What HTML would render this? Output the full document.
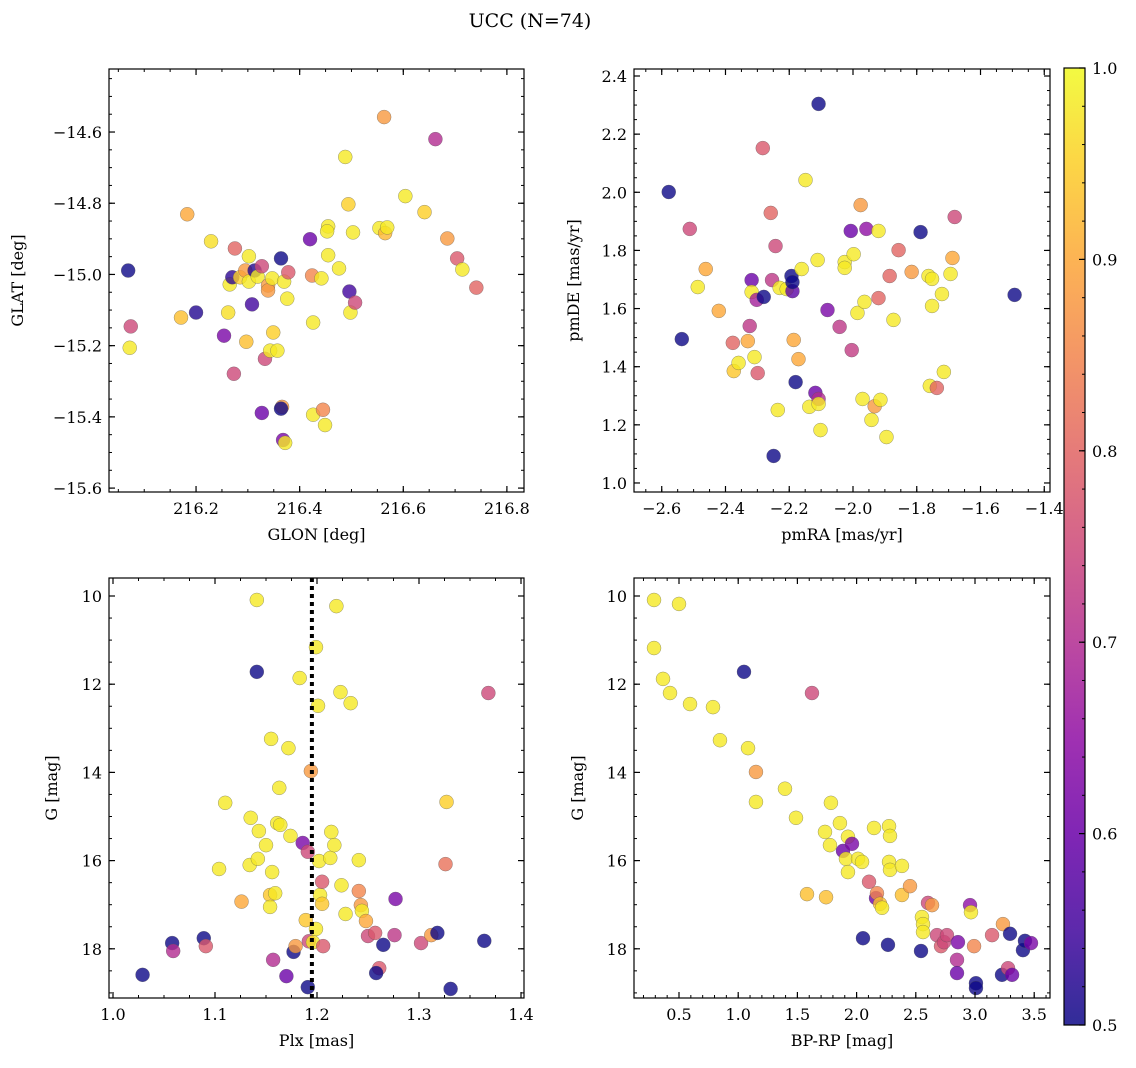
<!DOCTYPE html>
<html><head><meta charset="utf-8">
<style>
body{margin:0;background:#fff;}
svg{display:block;font-family:"DejaVu Serif","Liberation Serif",serif;}
</style></head>
<body>
<svg id="fig" width="1136" height="1068" viewBox="0 0 1136 1068" xmlns="http://www.w3.org/2000/svg">
<defs>
<linearGradient id="cbgrad" x1="0" y1="1" x2="0" y2="0">
<stop offset="0" stop-color="#0d0887"/><stop offset="0.1" stop-color="#41049d"/><stop offset="0.2" stop-color="#6a00a8"/><stop offset="0.3" stop-color="#8f0da4"/><stop offset="0.4" stop-color="#b12a90"/><stop offset="0.5" stop-color="#cc4778"/><stop offset="0.6" stop-color="#e16462"/><stop offset="0.7" stop-color="#f2844b"/><stop offset="0.8" stop-color="#fca636"/><stop offset="0.9" stop-color="#fcce25"/><stop offset="1" stop-color="#f0f921"/>
</linearGradient>
</defs>
<text x="530" y="27" font-size="19" text-anchor="middle">UCC (N=74)</text>
</svg>
<script>
// ---------- Panel 1: GLON vs GLAT ----------
const glon = [216.069,216.074,216.072,216.183,216.171,216.2,216.229,216.254,216.262,216.265,216.27,216.275,216.273,216.285,216.295,216.302,216.302,216.297,216.308,216.313,216.319,216.327,216.333,216.327,216.339,216.339,216.347,216.349,216.343,216.357,216.364,216.366,216.364,216.368,216.372,216.37,216.376,216.378,216.42,216.424,216.426,216.426,216.442,216.445,216.449,216.455,216.453,216.455,216.476,216.488,216.494,216.496,216.498,216.503,216.507,216.554,216.563,216.565,216.569,216.604,216.641,216.662,216.685,216.704,216.714,216.741];
const glat = [-14.989,-15.146,-15.206,-14.831,-15.121,-15.107,-14.907,-15.172,-15.107,-15.028,-15.008,-14.927,-15.279,-15.008,-14.989,-14.949,-15.02,-15.189,-15.084,-14.989,-15.006,-14.977,-15.237,-15.389,-15.031,-15.045,-15.011,-15.163,-15.214,-15.214,-14.955,-15.372,-15.377,-15.465,-15.473,-15.02,-15.068,-14.994,-14.901,-15.003,-15.135,-15.394,-15.011,-15.38,-15.423,-14.865,-14.879,-14.946,-14.983,-14.67,-14.803,-15.048,-15.107,-14.882,-15.079,-14.87,-14.558,-14.884,-14.868,-14.78,-14.825,-14.62,-14.899,-14.955,-14.986,-15.037];
const prob1 = [0.5,0.75,0.98,0.9,0.93,0.52,0.97,0.62,0.97,0.98,0.53,0.8,0.75,0.95,0.88,0.98,0.98,0.93,0.55,0.52,0.98,0.75,0.75,0.6,0.88,0.88,0.98,0.95,0.98,0.98,0.5,0.88,0.5,0.62,0.98,0.98,0.98,0.78,0.6,0.85,0.98,0.98,0.98,0.85,0.98,0.98,0.98,0.98,0.98,0.98,0.95,0.55,0.98,0.98,0.75,0.98,0.88,0.92,0.98,0.98,0.95,0.7,0.88,0.78,0.98,0.8];
// ---------- Panel 2: pmRA vs pmDE ----------
const pmra = [-2.578,-2.512,-2.537,-2.487,-2.462,-2.421,-2.377,-2.374,-2.359,-2.33,-2.318,-2.324,-2.318,-2.309,-2.299,-2.302,-2.28,-2.283,-2.258,-2.254,-2.249,-2.243,-2.236,-2.23,-2.208,-2.193,-2.19,-2.19,-2.186,-2.18,-2.171,-2.161,-2.149,-2.137,-2.118,-2.111,-2.108,-2.108,-2.108,-2.102,-2.08,-2.042,-2.026,-2.026,-2.007,-2.004,-1.998,-1.986,-1.976,-1.97,-1.964,-1.958,-1.942,-1.932,-1.92,-1.92,-1.914,-1.895,-1.885,-1.873,-1.857,-1.816,-1.788,-1.763,-1.759,-1.752,-1.752,-1.737,-1.721,-1.715,-1.694,-1.688,-1.681,-1.493];
const pmde = [2.001,1.874,1.495,1.674,1.736,1.592,1.482,1.385,1.413,1.488,1.698,1.54,1.657,1.433,1.378,1.63,1.64,2.152,1.929,1.698,1.093,1.815,1.251,1.671,1.667,1.712,1.66,1.691,1.492,1.347,1.426,1.736,2.042,1.262,1.31,1.767,2.304,1.289,1.272,1.182,1.595,1.537,1.76,1.74,1.867,1.457,1.787,1.585,1.956,1.289,1.623,1.874,1.217,1.264,1.636,1.867,1.286,1.158,1.712,1.561,1.801,1.726,1.863,1.712,1.334,1.702,1.609,1.327,1.65,1.382,1.719,1.774,1.915,1.647];
const prob2 = [0.5,0.75,0.5,0.98,0.9,0.9,0.8,0.94,0.98,0.9,0.6,0.72,0.98,0.98,0.78,0.68,0.5,0.78,0.8,0.72,0.5,0.75,0.98,0.98,0.98,0.5,0.58,0.5,0.9,0.5,0.9,0.98,0.98,0.98,0.6,0.98,0.5,0.7,0.98,0.98,0.62,0.72,0.98,0.98,0.6,0.73,0.98,0.98,0.88,0.98,0.98,0.65,0.98,0.88,0.8,0.98,0.98,0.98,0.8,0.98,0.8,0.88,0.5,0.98,0.98,0.98,0.98,0.8,0.98,0.98,0.98,0.9,0.75,0.5];
// ---------- Panel 3: Plx vs G ----------
const plx = [1.029,1.058,1.059,1.089,1.091,1.104,1.11,1.126,1.135,1.134,1.141,1.141,1.142,1.143,1.15,1.154,1.154,1.155,1.156,1.157,1.159,1.161,1.164,1.163,1.17,1.172,1.174,1.177,1.179,1.183,1.186,1.189,1.191,1.191,1.192,1.194,1.196,1.199,1.199,1.201,1.203,1.202,1.205,1.205,1.206,1.213,1.214,1.217,1.219,1.223,1.224,1.228,1.233,1.241,1.241,1.243,1.244,1.248,1.25,1.257,1.261,1.258,1.265,1.276,1.277,1.302,1.312,1.318,1.326,1.327,1.331,1.364,1.368];
const gmag3 = [18.59,17.87,18.05,17.76,17.94,16.19,14.69,16.93,15.03,16.1,10.09,11.72,15.96,15.33,15.65,16.78,17.05,13.24,16.26,18.25,16.74,15.15,15.19,14.35,18.62,13.45,15.44,18.07,17.94,11.86,15.6,17.35,15.8,18.87,17.83,13.97,17.85,17.55,11.16,12.49,16.78,16.01,16.48,16.98,17.94,15.94,15.35,15.65,10.23,12.18,16.56,17.21,12.43,15.99,16.69,17.01,17.14,17.37,17.71,17.64,18.44,18.55,17.91,17.69,16.87,17.87,17.69,17.64,16.08,14.67,18.91,17.82,12.2];
const prob3 = [0.5,0.5,0.7,0.5,0.78,0.98,0.98,0.9,0.98,0.98,0.98,0.5,0.98,0.98,0.98,0.94,0.98,0.98,0.98,0.7,0.98,0.98,0.98,0.98,0.6,0.98,0.98,0.5,0.88,0.98,0.62,0.94,0.75,0.5,0.75,0.88,0.98,0.98,0.98,0.98,0.98,0.98,0.78,0.94,0.78,0.98,0.98,0.98,0.98,0.98,0.98,0.98,0.98,0.98,0.85,0.88,0.98,0.9,0.75,0.78,0.78,0.5,0.5,0.72,0.62,0.75,0.88,0.5,0.82,0.95,0.5,0.5,0.75];
const plxLine = [1.195];
// ---------- Panel 4: BP-RP vs G ----------
const bprp = [0.289,0.289,0.365,0.424,0.5,0.593,0.787,0.846,1.049,1.083,1.15,1.15,1.395,1.488,1.581,1.623,1.733,1.742,1.783,1.775,1.859,1.885,1.91,1.927,1.927,1.961,2.012,2.046,2.054,2.105,2.147,2.164,2.172,2.198,2.215,2.265,2.274,2.282,2.274,2.282,2.383,2.383,2.451,2.544,2.552,2.561,2.561,2.603,2.637,2.679,2.713,2.738,2.763,2.848,2.856,2.848,2.958,2.966,2.992,3.008,3.008,3.144,3.228,3.236,3.279,3.296,3.313,3.405,3.422,3.473];
const gmag4 = [10.09,11.18,11.88,12.2,10.18,12.45,12.52,13.27,11.72,13.45,13.99,14.67,14.37,15.03,16.76,12.2,15.35,16.83,14.69,15.65,15.15,15.78,15.96,16.26,15.46,15.62,15.96,16.03,17.76,16.48,15.26,16.85,16.74,16.98,17.07,17.91,15.22,15.44,16.03,16.21,16.12,16.78,16.58,18.05,17.28,17.44,17.62,16.96,17.01,17.69,17.94,17.85,17.69,18.25,17.85,18.55,17.01,17.17,17.94,18.78,18.89,17.69,18.59,17.44,18.44,17.66,18.59,18.03,17.82,17.87];
const prob4 = [0.98,0.98,0.98,0.98,0.98,0.98,0.98,0.98,0.5,0.98,0.88,0.98,0.98,0.98,0.93,0.75,0.98,0.93,0.98,0.98,0.98,0.6,0.98,0.98,0.98,0.62,0.98,0.98,0.5,0.78,0.98,0.6,0.85,0.93,0.98,0.5,0.98,0.98,0.98,0.98,0.98,0.93,0.88,0.5,0.98,0.98,0.98,0.75,0.88,0.75,0.78,0.75,0.75,0.7,0.62,0.6,0.65,0.98,0.85,0.5,0.5,0.78,0.5,0.88,0.75,0.5,0.6,0.5,0.5,0.62];
// colorbar ticks
const cbTicks = [0.5,0.6,0.7,0.8,0.9,1.0];

const NS = "http://www.w3.org/2000/svg";
const svg = document.getElementById('fig');
const stops = ["#0d0887","#41049d","#6a00a8","#8f0da4","#b12a90","#cc4778","#e16462","#f2844b","#fca636","#fcce25","#f0f921"];
function hex(h){return [parseInt(h.substr(1,2),16),parseInt(h.substr(3,2),16),parseInt(h.substr(5,2),16)];}
function plasma(p){
  let t=Math.max(0,Math.min(1,(p-0.5)/0.5))*10;
  let i=Math.min(9,Math.floor(t)),f=t-i;
  const a=hex(stops[i]),b=hex(stops[i+1]);
  return 'rgb('+a.map((v,k)=>Math.round(v+(b[k]-v)*f)).join(',')+')';
}
function mk(tag,attrs,parent){const e=document.createElementNS(NS,tag);for(const k in attrs)e.setAttribute(k,attrs[k]);(parent||svg).appendChild(e);return e;}
function fmt(v,d){let s=v.toFixed(d);return s.replace('-','\u2212');}

function panel(cfg){
  const g=mk('g',{});
  
  
  const L=cfg.L,R=cfg.R,T=cfg.T,B=cfg.B;
  const sx=v=>L+(v-cfg.x0)/(cfg.x1-cfg.x0)*(R-L);
  const sy=v=>T+(v-cfg.y0)/(cfg.y1-cfg.y0)*(B-T);
  // points
  const pg=mk('g',{},g);
  
  
  for(let i=0;i<cfg.xs.length;i++){
    const c=mk('circle',{cx:sx(cfg.xs[i]),cy:sy(cfg.ys[i]),r:7,fill:plasma(cfg.ps[i]),'fill-opacity':0.8,stroke:'#555','stroke-width':0.5,'stroke-opacity':0.6},pg);
    
    
  }
  if(cfg.vline){
    for(const v of cfg.vline){
      const l=mk('line',{x1:sx(v),x2:sx(v),y1:T,y2:B,stroke:'#000','stroke-width':4,'stroke-dasharray':'4 4'},g);
      
      
    }
  }
  // frame
  const fr=mk('rect',{x:L,y:T,width:R-L,height:B-T,fill:'none',stroke:'#000','stroke-width':1.2},g);
  
  
  // ticks
  const eps=1e-9;
  function ticks(a0,a1,step){const lo=Math.min(a0,a1),hi=Math.max(a0,a1);const r=[];for(let v=Math.ceil(lo/step-eps)*step;v<=hi+eps;v+=step)r.push(v);return r;}
  for(const v of ticks(cfg.x0,cfg.x1,cfg.xminor)){const x=sx(v);mk('line',{x1:x,x2:x,y1:B,y2:B-3,stroke:'#000','stroke-width':1},g);mk('line',{x1:x,x2:x,y1:T,y2:T+3,stroke:'#000','stroke-width':1},g);}
  for(const v of ticks(cfg.y0,cfg.y1,cfg.yminor)){const y=sy(v);mk('line',{x1:L,x2:L+3,y1:y,y2:y,stroke:'#000','stroke-width':1},g);mk('line',{x1:R,x2:R-3,y1:y,y2:y,stroke:'#000','stroke-width':1},g);}
  for(const v of ticks(cfg.x0,cfg.x1,cfg.xmajor)){const x=sx(v);mk('line',{x1:x,x2:x,y1:B,y2:B-6,stroke:'#000','stroke-width':1.2},g);mk('line',{x1:x,x2:x,y1:T,y2:T+6,stroke:'#000','stroke-width':1.2},g);
    const t=mk('text',{x:x,y:B+22,'font-size':16,'text-anchor':'middle'},g);t.textContent=fmt(v,cfg.xd);
    
    }
  for(const v of ticks(cfg.y0,cfg.y1,cfg.ymajor)){const y=sy(v);mk('line',{x1:L,x2:L+6,y1:y,y2:y,stroke:'#000','stroke-width':1.2},g);mk('line',{x1:R,x2:R-6,y1:y,y2:y,stroke:'#000','stroke-width':1.2},g);
    const t=mk('text',{x:L-7,y:y+6,'font-size':16,'text-anchor':'end'},g);t.textContent=fmt(v,cfg.yd);
    
    }
  const xl=mk('text',{x:(L+R)/2,y:B+48,'font-size':16,'text-anchor':'middle'},g);xl.textContent=cfg.xlabel;
  
  
  const yx=cfg.ylx,yy=(T+B)/2;
  const yl=mk('text',{x:yx,y:yy,'font-size':16,'text-anchor':'middle',transform:'rotate(-90 '+yx+' '+yy+')'},g);yl.textContent=cfg.ylabel;
  
  
}

panel({name:'glon-glat-panel',L:109,R:524,T:69,B:492,x0:216.032,x1:216.833,y0:-14.423,y1:-15.611,xmajor:0.2,xminor:0.05,ymajor:0.2,yminor:0.05,xd:1,yd:1,xs:glon,ys:glat,ps:prob1,xlabel:'GLON [deg]',ylabel:'GLAT [deg]',ylx:23});
panel({name:'pm-panel',L:634,R:1050,T:69,B:492,x0:-2.687,x1:-1.382,y0:2.4+7/290.7,y1:2.4-416/290.7,xmajor:0.2,xminor:0.05,ymajor:0.2,yminor:0.05,xd:1,yd:1,xs:pmra,ys:pmde,ps:prob2,xlabel:'pmRA [mas/yr]',ylabel:'pmDE [mas/yr]',ylx:579});
panel({name:'plx-g-panel',L:109,R:524,T:578,B:998,x0:1.0-4/1020,x1:1.0+411/1020,y0:10-18/44.1,y1:10+402/44.1,xmajor:0.1,xminor:0.025,ymajor:2,yminor:0.5,xd:1,yd:0,xs:plx,ys:gmag3,ps:prob3,xlabel:'Plx [mas]',ylabel:'G [mag]',ylx:57,vline:plxLine});
panel({name:'cmd-panel',L:634,R:1050,T:578,B:998,x0:0.5-45/118.4,x1:0.5+371/118.4,y0:10-18/44.1,y1:10+402/44.1,xmajor:0.5,xminor:0.1,ymajor:2,yminor:0.5,xd:1,yd:0,xs:bprp,ys:gmag4,ps:prob4,xlabel:'BP-RP [mag]',ylabel:'G [mag]',ylx:583});

// colorbar
const cb=mk('g',{});


const cT=68,cB=1025,cL=1064,cR=1085;
mk('rect',{x:cL,y:cT,width:cR-cL,height:cB-cT,fill:'url(#cbgrad)','fill-opacity':0.85,stroke:'#000','stroke-width':1.2},cb);
const cy=v=>cB-(v-0.5)/0.5*(cB-cT);
for(let k=0;k<=25;k++){const v=0.5+k*0.02;mk('line',{x1:cR,x2:cR-3,y1:cy(v),y2:cy(v),stroke:'#000','stroke-width':1},cb);}
for(const v of cbTicks){
  mk('line',{x1:cR,x2:cR-6,y1:cy(v),y2:cy(v),stroke:'#000','stroke-width':1.2},cb);
  const t=mk('text',{x:cR+7,y:cy(v)+6,'font-size':16},cb);t.textContent=v.toFixed(1);
  
  
}
</script>
</body></html>
